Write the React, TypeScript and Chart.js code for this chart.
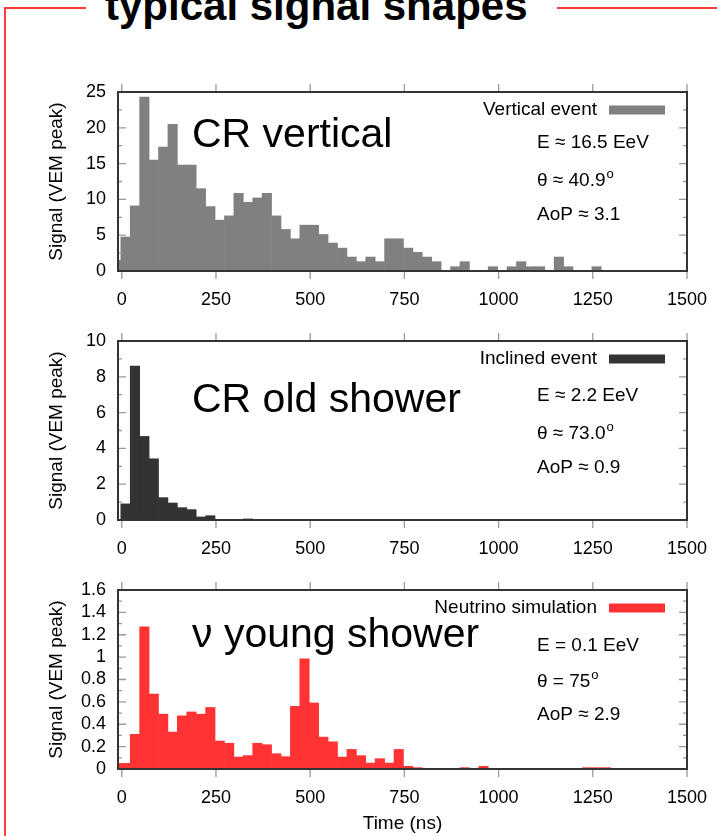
import React, { useEffect, useRef } from "react";
import { Chart, registerables } from "chart.js";

Chart.register(...registerables);

const FONT = '"Liberation Sans", Arial, Helvetica, sans-serif';

// ---------------- data ----------------
// centres of the 25 ns time bins (ns)
const binCenters = [
  -15, 10, 35, 60, 85, 110, 135, 160, 185, 210, 235, 260, 285, 310, 335, 360, 385, 410,
  435, 460, 485, 510, 535, 560, 585, 610, 635, 660, 685, 710, 735, 760, 785, 810, 835,
  860, 885, 910, 935, 960, 985, 1010, 1035, 1060, 1085, 1110, 1135, 1160, 1185, 1210,
  1235, 1260, 1285,
];

const verticalSignal = [
  1.5, 4.75, 9.1, 24.3, 15.5, 17.3, 20.5, 14.8, 14.8, 11.5, 9.0, 7.1, 7.7, 10.85, 9.6,
  10.2, 10.85, 7.7, 5.8, 4.5, 6.4, 6.4, 5.1, 3.9, 3.2, 1.95, 1.3, 1.95, 1.3, 4.5, 4.5,
  3.2, 2.6, 1.95, 1.3, 0, 0.6, 1.3, 0, 0, 0.6, 0, 0.6, 1.3, 0.6, 0.6, 0, 1.95, 0.6, 0,
  0, 0.6, 0,
];

const inclinedSignal = [
  0, 0.9, 8.6, 4.67, 3.42, 1.25, 0.95, 0.69, 0.58, 0.17, 0.24, 0, 0, 0, 0.06, 0, 0, 0,
  0, 0, 0, 0, 0, 0, 0, 0, 0, 0, 0, 0, 0, 0, 0, 0, 0, 0, 0, 0, 0, 0, 0, 0, 0, 0, 0, 0, 0,
  0, 0, 0, 0, 0, 0,
];

const neutrinoSignal = [
  0.05, 0.05, 0.31, 1.27, 0.67, 0.49, 0.33, 0.475, 0.51, 0.49, 0.55, 0.25, 0.23, 0.107,
  0.12, 0.23, 0.217, 0.137, 0.11, 0.56, 0.985, 0.59, 0.285, 0.243, 0.107, 0.175, 0.119,
  0.053, 0.092, 0.053, 0.175, 0.024, 0.012, 0, 0, 0, 0, 0.012, 0, 0.024, 0, 0, 0, 0, 0,
  0, 0, 0, 0, 0, 0.012, 0.012, 0.012,
];

const xTicks = [0, 250, 500, 750, 1000, 1250, 1500];
const verticalTicks = [0, 5, 10, 15, 20, 25];
const inclinedTicks = [0, 2, 4, 6, 8, 10];
const neutrinoTicks = [0, 0.2, 0.4, 0.6, 0.8, 1, 1.2, 1.4, 1.6];

const verticalInfo = ["E ≈ 16.5 EeV", "θ ≈ 40.9", "AoP ≈ 3.1"];
const inclinedInfo = ["E ≈ 2.2 EeV", "θ ≈ 73.0", "AoP ≈ 0.9"];
const neutrinoInfo = ["E = 0.1 EeV", "θ = 75", "AoP ≈ 2.9"];
const infoSup = ["", "o", ""];

const titleText = "typical signal shapes";
const xTitle = "Time (ns)";
const yTitle = "Signal (VEM peak)";

// ---------------- layout / style ----------------
type PanelCfg = {
  values: number[];
  yTicks: number[];
  color: string;
  label: string;
  legend: string;
  info: string[];
  plotTop: number;
  labelDy: number;
  infoDy: number[];
  last: boolean;
};

const panels: PanelCfg[] = [
  {
    values: verticalSignal,
    yTicks: verticalTicks,
    color: "#808080",
    label: "CR vertical",
    legend: "Vertical event",
    info: verticalInfo,
    plotTop: 92,
    labelDy: 55,
    infoDy: [56, 94, 128],
    last: false,
  },
  {
    values: inclinedSignal,
    yTicks: inclinedTicks,
    color: "#333333",
    label: "CR old shower",
    legend: "Inclined event",
    info: inclinedInfo,
    plotTop: 341,
    labelDy: 71,
    infoDy: [60, 98, 132],
    last: false,
  },
  {
    values: neutrinoSignal,
    yTicks: neutrinoTicks,
    color: "#ff3333",
    label: "ν young shower",
    legend: "Neutrino simulation",
    info: neutrinoInfo,
    plotTop: 590,
    labelDy: 57,
    infoDy: [61, 97, 130],
    last: true,
  },
];

const PLOT_H = 179;
const PAD_TOP = 20;
const Y_AXIS_W = 118;
const PAD_RIGHT = 30;

function fmt(v: number) {
  return String(parseFloat(Number(v).toFixed(2)));
}

function Panel({ p }: { p: PanelCfg }) {
  const ref = useRef<HTMLCanvasElement>(null);
  const xAxisH = p.last ? 69 : 45;
  const h = PAD_TOP + PLOT_H + xAxisH;

  useEffect(() => {
    const canvas = ref.current;
    if (!canvas) return;
    const yMax = p.yTicks[p.yTicks.length - 1];

    const framePlugin = {
      id: "frame",
      afterDraw(chart: any) {
        const { ctx, chartArea: a, scales } = chart;
        const xs = scales.x;
        const ys = scales.y;
        ctx.save();
        // x ticks, outside, top and bottom
        ctx.strokeStyle = "#999";
        ctx.lineWidth = 1.3;
        ctx.beginPath();
        for (const v of xTicks) {
          const px = xs.getPixelForValue(v);
          ctx.moveTo(px, a.top - 8);
          ctx.lineTo(px, a.top);
          ctx.moveTo(px, a.bottom);
          ctx.lineTo(px, a.bottom + 8);
        }
        // y ticks, inside, left and right, with minor ticks
        for (let i = 0; i < p.yTicks.length; i++) {
          const py = ys.getPixelForValue(p.yTicks[i]);
          ctx.moveTo(a.left, py);
          ctx.lineTo(a.left + 8, py);
          ctx.moveTo(a.right - 8, py);
          ctx.lineTo(a.right, py);
          if (i < p.yTicks.length - 1) {
            const pm = ys.getPixelForValue((p.yTicks[i] + p.yTicks[i + 1]) / 2);
            ctx.moveTo(a.left, pm);
            ctx.lineTo(a.left + 4, pm);
            ctx.moveTo(a.right - 4, pm);
            ctx.lineTo(a.right, pm);
          }
        }
        ctx.stroke();
        // border
        ctx.strokeStyle = "#333";
        ctx.lineWidth = 2;
        ctx.strokeRect(a.left, a.top, a.right - a.left, a.bottom - a.top);

        // big label
        ctx.fillStyle = "#000";
        ctx.textAlign = "left";
        ctx.textBaseline = "alphabetic";
        ctx.font = `41px ${FONT}`;
        ctx.fillText(p.label, a.left + 74, a.top + p.labelDy);

        // legend
        ctx.font = `19px ${FONT}`;
        ctx.textAlign = "right";
        ctx.textBaseline = "middle";
        ctx.fillText(p.legend, a.left + 479, a.top + 18);
        ctx.fillStyle = p.color;
        ctx.fillRect(a.left + 491, a.top + 18 - 4.5, 56, 9);

        // info lines
        ctx.fillStyle = "#000";
        ctx.textAlign = "left";
        ctx.textBaseline = "alphabetic";
        p.info.forEach((t, i) => {
          ctx.font = `19px ${FONT}`;
          const x0 = a.left + 419;
          const y0 = a.top + p.infoDy[i];
          ctx.fillText(t, x0, y0);
          if (infoSup[i]) {
            const w = ctx.measureText(t).width;
            ctx.font = `13px ${FONT}`;
            ctx.fillText(infoSup[i], x0 + w + 1, y0 - 8);
          }
        });
        ctx.restore();
      },
    };

    const chart = new Chart(canvas, {
      type: "bar",
      data: {
        datasets: [
          {
            data: binCenters.map((x, i) => ({ x, y: p.values[i] })),
            backgroundColor: p.color,
            borderWidth: 0,
            barPercentage: 1,
            categoryPercentage: 1,
          } as any,
        ],
      },
      options: {
        animation: false,
        responsive: false,
        devicePixelRatio: 1,
        layout: { padding: { top: PAD_TOP, right: PAD_RIGHT, left: 0, bottom: 0 } },
        plugins: { legend: { display: false }, tooltip: { enabled: false } },
        scales: {
          x: {
            type: "linear",
            min: -10,
            max: 1500,
            offset: false,
            grid: { display: false, drawTicks: false },
            border: { display: false },
            afterBuildTicks: (s: any) => {
              s.ticks = xTicks.map((v) => ({ value: v }));
            },
            ticks: {
              font: { size: 18, family: FONT },
              color: "#000",
              padding: 18,
              maxRotation: 0,
              autoSkip: false,
              callback: (v: any) => fmt(v),
            },
            title: p.last
              ? {
                  display: true,
                  text: xTitle,
                  font: { size: 19, family: FONT },
                  color: "#000",
                  padding: { top: 0, bottom: 3 },
                }
              : { display: false },
            afterFit: (s: any) => {
              s.height = xAxisH;
              s.paddingLeft = 0;
              s.paddingRight = 0;
            },
          },
          y: {
            type: "linear",
            min: 0,
            max: yMax,
            grid: { display: false, drawTicks: false },
            border: { display: false },
            afterBuildTicks: (s: any) => {
              s.ticks = p.yTicks.map((v) => ({ value: v }));
            },
            ticks: {
              font: { size: 18, family: FONT },
              color: "#000",
              padding: 12,
              autoSkip: false,
              callback: (v: any) => fmt(v),
            },
            title: {
              display: true,
              text: yTitle,
              font: { size: 19, family: FONT },
              color: "#000",
              padding: { top: 45, bottom: 0 },
            },
            afterFit: (s: any) => {
              s.width = Y_AXIS_W;
              s.paddingTop = 0;
              s.paddingBottom = 0;
            },
          },
        },
      } as any,
      plugins: [framePlugin],
    });
    return () => chart.destroy();
  }, []);

  return (
    <canvas
      ref={ref}
      width={717}
      height={h}
      style={{
        position: "absolute",
        left: 0,
        top: p.plotTop - PAD_TOP,
        width: 717,
        height: h,
      }}
    />
  );
}

export default function App() {
  const red = "#ff3c3c";
  return (
    <div
      style={{
        position: "absolute",
        left: 0,
        top: 0,
        width: 717,
        height: 836,
        overflow: "hidden",
        background: "#fff",
      }}
    >
      <div style={{ position: "absolute", left: 4, top: 7, width: 82, height: 2, background: red }} />
      <div style={{ position: "absolute", left: 557, top: 7, width: 160, height: 2, background: red }} />
      <div style={{ position: "absolute", left: 4, top: 7, width: 2, height: 829, background: red }} />
      <div
        style={{
          position: "absolute",
          left: 105,
          top: -15,
          font: `bold 42px ${FONT}`,
          lineHeight: "42px",
          whiteSpace: "nowrap",
          color: "#000",
        }}
      >
        {titleText}
      </div>
      {panels.map((p, i) => (
        <Panel key={i} p={p} />
      ))}
    </div>
  );
}
